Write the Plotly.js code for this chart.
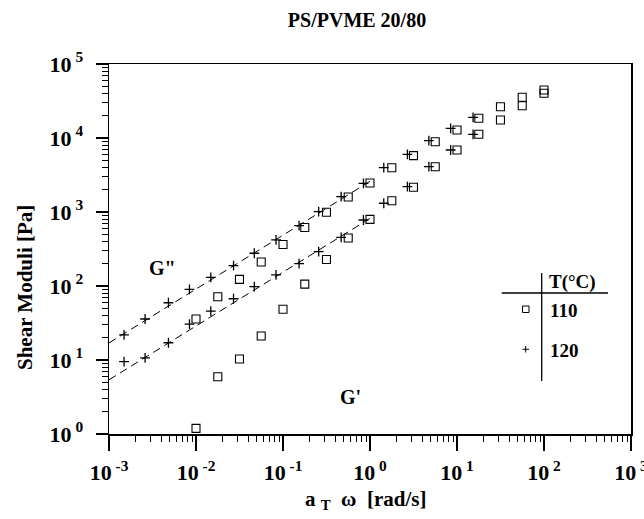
<!DOCTYPE html>
<html><head><meta charset="utf-8">
<script src="https://cdn.plot.ly/plotly-3.0.1.min.js"></script>
<style>html,body{margin:0;padding:0;background:#fff}</style>
</head><body><div id="chart" style="width:644px;height:519px"></div>
<script>
// 110 °C (open squares)
const freq110 = [0.01, 0.0178, 0.0316, 0.0562, 0.1, 0.178, 0.316, 0.562, 1, 1.78, 3.16, 5.62, 10, 17.8, 31.6, 56.2, 100];
const gpp110  = [35.8, 71.6, 123, 211, 364, 618, 991, 1595, 2466, 3970, 5770, 8910, 12820, 18460, 26500, 35480, 44530];
const gp110   = [1.19, 5.94, 10.3, 21.1, 48.4, 106, 228, 446, 796, 1422, 2158, 4093, 6880, 11220, 17500, 27300, 40180];
// 120 °C (crosses)
const freq120 = [0.00149, 0.0026, 0.00482, 0.00841, 0.0148, 0.027, 0.0468, 0.0832, 0.153, 0.257, 0.466, 0.841, 1.44, 2.69, 4.75, 8.45, 15.3];
const gpp120  = [21.8, 35.8, 59.4, 90.2, 131, 188, 277, 419, 653, 1009, 1610, 2443, 3970, 6025, 9200, 13520, 19050];
const gp120   = [9.48, 10.7, 17.1, 30.6, 45.9, 67.3, 97.9, 141, 200, 292, 455, 780, 1312, 2198, 4093, 6880, 11220];
// dashed fit lines
const fitX   = [0.001, 1];
const fitGpp = [17, 2600];
const fitGp  = [5.4, 820];
// ticks
const xTickVals = [1e-3, 1e-2, 1e-1, 1, 10, 100, 1000];
const xTickText = ['10<sup> -3</sup>', '10<sup> -2</sup>', '10<sup> -1</sup>', '10<sup> 0</sup>', '10<sup> 1</sup>', '10<sup> 2</sup>', '10<sup> 3</sup>'];
const yTickVals = [1, 10, 100, 1000, 10000, 100000];
const yTickText = ['10<sup> 0</sup>', '10<sup> 1</sup>', '10<sup> 2</sup>', '10<sup> 3</sup>', '10<sup> 4</sup>', '10<sup> 5</sup>'];
const legendTitle = 'T(°C)';
const legendLabels = ['110', '120'];

function minorVals(lo, hi) {
  const v = [];
  for (let e = lo; e < hi; e++) for (let d = 2; d <= 9; d++) v.push(d * Math.pow(10, e));
  return v;
}

const F = 'Liberation Serif, Times New Roman, serif';
const sq = {symbol: 'square-open', size: 8, color: 'black', line: {width: 1.1, color: 'black'}};
const cr = {symbol: 'cross-thin-open', size: 7, color: 'black', line: {width: 1.3, color: 'black'}};

const traces = [
  {x: fitX, y: fitGpp, mode: 'lines', line: {color: 'black', width: 1, dash: '8px,5px'}},
  {x: fitX, y: fitGp, mode: 'lines', line: {color: 'black', width: 1, dash: '8px,5px'}},
  {x: freq110, y: gpp110, mode: 'markers', marker: sq},
  {x: freq110, y: gp110, mode: 'markers', marker: sq},
  {x: freq120, y: gpp120, mode: 'markers', marker: cr},
  {x: freq120, y: gp120, mode: 'markers', marker: cr}
];

const px = p => (p - 109) / 522;
const py = p => (434 - p) / 370;

const axisCommon = {
  type: 'log', showgrid: false, zeroline: false,
  showline: true, linecolor: 'black', linewidth: 1.5, mirror: true,
  ticks: 'outside', tickcolor: 'black', tickwidth: 1.2,
  tickmode: 'array', ticklabeloverflow: 'allow',
  tickfont: {family: F, size: 22, color: 'black', weight: 'bold'}
};

const layout = {
  width: 644, height: 519,
  margin: {l: 109, r: 13, t: 64, b: 85},
  paper_bgcolor: 'white', plot_bgcolor: 'white',
  showlegend: false,
  title: {text: 'PS/PVME 20/80', x: 357/644, xanchor: 'center', xref: 'container',
          y: 1 - 20/519, yanchor: 'middle', yref: 'container',
          font: {family: F, size: 20, color: 'black', weight: 'bold'}},
  xaxis: Object.assign({}, axisCommon, {
    range: [-3, 3], tickvals: xTickVals, ticktext: xTickText, ticklen: 15, ticklabelstandoff: 3,
    minor: {tickvals: minorVals(-3, 3), ticks: 'outside', ticklen: 6, tickwidth: 1, tickcolor: 'black'}
  }),
  yaxis: Object.assign({}, axisCommon, {
    range: [0, 5], tickvals: yTickVals, ticktext: yTickText, ticklen: 12, ticklabelstandoff: 8,
    minor: {tickvals: minorVals(0, 5), ticks: 'outside', ticklen: 6, tickwidth: 1, tickcolor: 'black'}
  }),
  annotations: [
    {text: 'Shear Moduli [Pa]', xref: 'paper', yref: 'paper', x: px(25), y: py(288), textangle: -90,
     showarrow: false, xanchor: 'center', yanchor: 'middle', font: {family: F, size: 21, color: 'black', weight: 'bold'}},
    {text: 'a <sub>T</sub>  ω  [rad/s]', xref: 'paper', yref: 'paper', x: px(365), y: py(500),
     showarrow: false, xanchor: 'center', yanchor: 'middle', font: {family: F, size: 21, color: 'black', weight: 'bold'}},
    {text: 'G"', xref: 'paper', yref: 'paper', x: px(162), y: py(268), showarrow: false,
     xanchor: 'center', yanchor: 'middle', font: {family: F, size: 20, color: 'black', weight: 'bold'}},
    {text: "G'", xref: 'paper', yref: 'paper', x: px(350), y: py(397), showarrow: false,
     xanchor: 'center', yanchor: 'middle', font: {family: F, size: 20, color: 'black', weight: 'bold'}},
    {text: legendTitle, xref: 'paper', yref: 'paper', x: px(547), y: py(282), showarrow: false,
     xanchor: 'left', yanchor: 'middle', font: {family: F, size: 19, color: 'black', weight: 'bold'}},
    {text: legendLabels[0], xref: 'paper', yref: 'paper', x: px(548), y: py(310), showarrow: false,
     xanchor: 'left', yanchor: 'middle', font: {family: F, size: 19, color: 'black', weight: 'bold'}},
    {text: legendLabels[1], xref: 'paper', yref: 'paper', x: px(548), y: py(350), showarrow: false,
     xanchor: 'left', yanchor: 'middle', font: {family: F, size: 19, color: 'black', weight: 'bold'}}
  ],
  shapes: [
    {type: 'line', xref: 'paper', yref: 'paper', x0: px(541.7), x1: px(541.7), y0: py(273), y1: py(381), line: {color: 'black', width: 1.3}},
    {type: 'line', xref: 'paper', yref: 'paper', x0: px(501.7), x1: px(608), y0: py(293), y1: py(293), line: {color: 'black', width: 1.3}},
    {type: 'rect', xref: 'paper', yref: 'paper', x0: px(522.5), x1: px(529), y0: py(306), y1: py(312.5), line: {color: 'black', width: 1}},
    {type: 'line', xref: 'paper', yref: 'paper', x0: px(522.5), x1: px(529), y0: py(349.3), y1: py(349.3), line: {color: 'black', width: 1}},
    {type: 'line', xref: 'paper', yref: 'paper', x0: px(525.7), x1: px(525.7), y0: py(346), y1: py(352.5), line: {color: 'black', width: 1}}
  ]
};

Plotly.newPlot('chart', traces, layout, {staticPlot: true, displayModeBar: false});
</script>
</body></html>
